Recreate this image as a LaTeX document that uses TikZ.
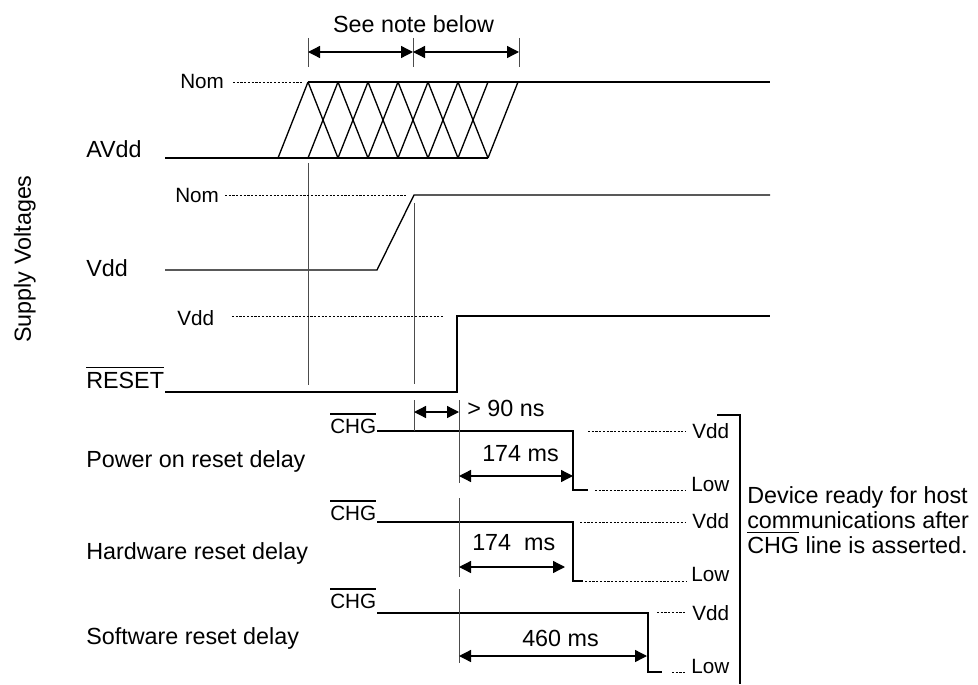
\documentclass[tikz,border=0pt]{standalone}
\usepackage{fontspec}
\setmainfont{Liberation Sans}
\usepackage{tikz}
\usetikzlibrary{arrows.meta}

\newcommand{\mainfs}{\fontsize{17.5}{21}\selectfont}
\newcommand{\lvlfs}{\fontsize{15.5}{18}\selectfont}
\newcommand{\ovl}[1]{\leavevmode\vbox{\hrule height 1.3pt\kern 2.6pt\hbox{#1}}}

\begin{document}
\begin{tikzpicture}[x=0.75pt,y=0.75pt,yscale=-1,xscale=1,
    sigline/.style={line width=1pt,line join=miter},
    guideline/.style={line width=0.6pt,color=black!70},
    lvlline/.style={line width=0.5pt,dash pattern={on 1.6pt off 1.2pt}},
    dimarrow/.style={line width=1pt,{Triangle[length=9pt,width=9pt]}-{Triangle[length=9pt,width=9pt]}},
    lbl/.style={font=\mainfs,inner sep=0pt,anchor=base west},
    lvltext/.style={font=\lvlfs,inner sep=0pt,anchor=base west}]
    \path (0,0) rectangle (978,684); %set diagram size 978 x 684

    %Shape: AVdd ramps
    \draw [sigline] (165,158) -- (488,158) (308,82) -- (770,82) ;
    \draw [sigline] (278,158) -- (308,82)(308,158) -- (338,82)(338,158) -- (368,82)(368,158) -- (398,82)(398,158) -- (428,82)(428,158) -- (458,82)(458,158) -- (488,82)(488,158) -- (518,82) ;
    \draw [sigline] (308,82) -- (338,158)(338,82) -- (368,158)(368,82) -- (398,158)(398,82) -- (428,158)(428,82) -- (458,158)(458,82) -- (488,158) ;
    %Shape: Vdd
    \draw [sigline] (165,270) -- (377,270) -- (414,195) -- (770,195) ;
    %Shape: RESET
    \draw [sigline] (165,392) -- (457,392) -- (457,316) -- (770,316) ;
    %Shape: CHG lines
    \draw [sigline] (377,431) -- (573,431) -- (573,490) -- (588,490) ;
    \draw [sigline] (377,522) -- (573,522) -- (573,581) -- (583,581) ;
    \draw [sigline] (377,613) -- (648,613) -- (648,672) -- (662,672) ;
    %Shape: Bracket
    \draw [sigline] (717,415) -- (740,415) -- (740,684) ;

    %Shape: Guide lines
    \draw [guideline] (308,38) -- (308,67)(413,38) -- (413,67)(519,38) -- (519,67) ;
    \draw [guideline] (308,163) -- (308,385)(414,203) -- (414,384)(414,400) -- (414,431) ;
    \draw [guideline] (459,400) -- (459,483)(459,498) -- (459,577)(459,589) -- (459,663) ;

    %Shape: Level lines
    \draw [lvlline] (233,82) -- (302,82)(225,195) -- (407,195)(232,316) -- (444,316) ;
    \draw [lvlline] (588,431) -- (686,431)(595,490) -- (686,490) ;
    \draw [lvlline] (580,522) -- (686,522)(585,581) -- (686,581) ;
    \draw [lvlline] (657,612) -- (686,612)(672,672) -- (686,672) ;

    %Shape: Dimension arrows
    \draw [dimarrow] (308,52) -- (413,52) ;
    \draw [dimarrow] (413,52) -- (519,52) ;
    \draw [dimarrow] (414,412) -- (459,412) ;
    \draw [dimarrow] (459,476) -- (573,476) ;
    \draw [dimarrow] (459,567) -- (565,567) ;
    \draw [dimarrow] (459,656) -- (647,656) ;

    % Text Node
    \draw (413.5,32.5) node (note) [lbl,anchor=base] {See note below};
    % Text Node
    \draw (31,259) node (supply) [lbl,anchor=base,rotate=90] {Supply Voltages};
    % Text Node
    \draw (86,158) node (avdd) [lbl] {AVdd};
    % Text Node
    \draw (86,276) node (vdd) [lbl] {Vdd};
    % Text Node
    \draw (86,388) node (reset) [lbl] {\ovl{RESET}};
    % Text Node
    \draw (180,89) node (nomA) [lvltext] {Nom};
    % Text Node
    \draw (175,203) node (nomB) [lvltext] {Nom};
    % Text Node
    \draw (177,325) node (vddR) [lvltext] {Vdd};
    % Text Node
    \draw (330,433) node (chgA) [lvltext] {\ovl{CHG}};
    % Text Node
    \draw (330,520) node (chgB) [lvltext] {\ovl{CHG}};
    % Text Node
    \draw (330,608) node (chgC) [lvltext] {\ovl{CHG}};
    % Text Node
    \draw (86,467) node (por) [lbl] {Power on reset delay};
    % Text Node
    \draw (86,559) node (hwr) [lbl] {Hardware reset delay};
    % Text Node
    \draw (86,644) node (swr) [lbl] {Software reset delay};
    % Text Node
    \draw (467,416.5) node (ns) [lbl] {> 90 ns};
    % Text Node
    \draw (482,461.5) node (msA) [lbl] {174 ms};
    % Text Node
    \draw (472,550) node (msB) [lbl] {174\ \ ms};
    % Text Node
    \draw (522,646.5) node (msC) [lbl] {460 ms};
    % Text Node
    \draw (692,438) node (hiA) [lvltext] {Vdd};
    % Text Node
    \draw (691,491.5) node (loA) [lvltext] {Low};
    % Text Node
    \draw (692,528) node (hiB) [lvltext] {Vdd};
    % Text Node
    \draw (691,581.5) node (loB) [lvltext] {Low};
    % Text Node
    \draw (692,620) node (hiC) [lvltext] {Vdd};
    % Text Node
    \draw (691,673) node (loC) [lvltext] {Low};
    % Text Node
    \draw (747,503) node (readyA) [lbl] {Device ready for host};
    % Text Node
    \draw (747,528) node (readyB) [lbl] {communications after};
    % Text Node
    \draw (747,553) node (readyC) [lbl] {\ovl{CHG} line is asserted.};

\end{tikzpicture}
\end{document}
